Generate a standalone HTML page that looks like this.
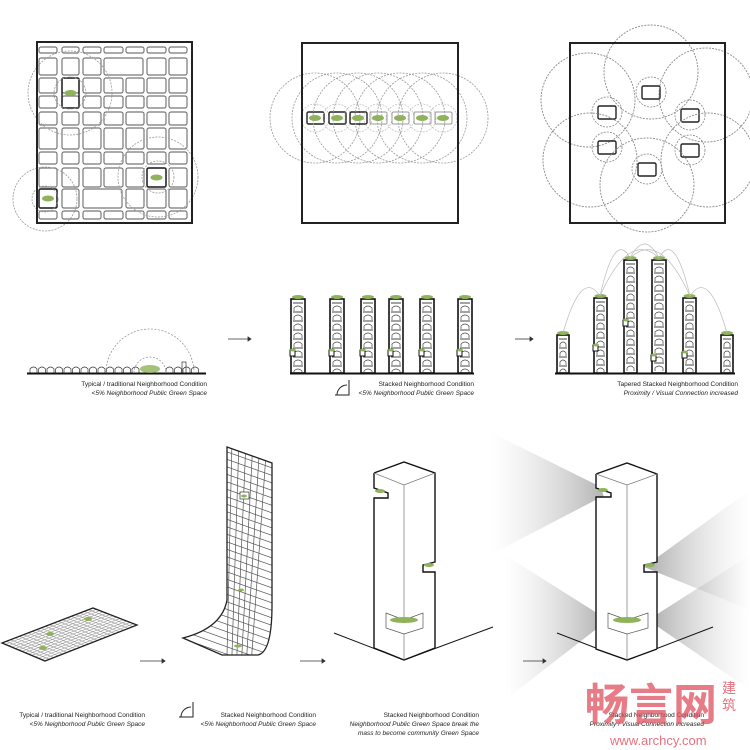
<!DOCTYPE html>
<html><head><meta charset="utf-8"><style>
html,body{margin:0;padding:0;background:#fff}
svg{display:block}
text{font-family:"Liberation Sans",sans-serif;font-size:6.5px;fill:#222}
.i{font-style:italic}
</style></head><body>
<svg id="s" width="750" height="750" viewBox="0 0 750 750" xmlns="http://www.w3.org/2000/svg">
<defs>
<linearGradient id="gL" x1="1" y1="0" x2="0" y2="0"><stop offset="0" stop-color="#888" stop-opacity=".7"/><stop offset="1" stop-color="#ccc" stop-opacity="0"/></linearGradient>
<linearGradient id="gR" x1="0" y1="0" x2="1" y2="0"><stop offset="0" stop-color="#888" stop-opacity=".7"/><stop offset="1" stop-color="#ccc" stop-opacity="0"/></linearGradient>
<clipPath id="sheet"><path d="M227,447 L272,463 L272,605 Q272,652 258,655 L222,655 L183,638 Q222,628 227,600 Z"/></clipPath>
<clipPath id="plate"><path d="M2,643 L93,608 L137,625 L45,661 Z"/></clipPath>
</defs>
<g id="g"></g>

<polygon points="490,432 611,492 490,555" fill="url(#gL)"/>
<polygon points="644,567 750,490 750,610" fill="url(#gR)"/>
<polygon points="505,555 608,620 505,700" fill="url(#gL)"/>
<polygon points="648,620 750,555 750,690" fill="url(#gR)"/>

<rect x="37" y="42" width="155" height="181" fill="none" stroke="#222" stroke-width="2"/>
<rect x="302" y="43" width="156" height="180" fill="none" stroke="#222" stroke-width="2"/>
<rect x="570" y="43" width="155" height="180" fill="none" stroke="#222" stroke-width="2"/>

<line x1="27" y1="373.5" x2="206" y2="373.5" stroke="#111" stroke-width="2"/>
<line x1="290" y1="373.5" x2="474" y2="373.5" stroke="#111" stroke-width="2"/>
<line x1="555" y1="373.5" x2="735" y2="373.5" stroke="#111" stroke-width="2"/>
<path d="M106,373 A44,44 0 0 1 194,373" fill="none" stroke="#999" stroke-width=".8" stroke-dasharray="2,1.5"/>
<path d="M134,373 A16,16 0 0 1 166,373" fill="none" stroke="#999" stroke-width=".8" stroke-dasharray="2,1.5"/>
<ellipse cx="150" cy="369" rx="10" ry="4" fill="#8fb35a" opacity=".8"/>

<g stroke="#333" stroke-width=".8" fill="#333">
<line x1="228" y1="339" x2="248" y2="339"/><polygon points="248,337 251,339 248,341"/>
<line x1="515" y1="339" x2="530" y2="339"/><polygon points="530,337 533,339 530,341"/>
<line x1="140" y1="661" x2="162" y2="661"/><polygon points="162,659 165,661 162,663"/>
<line x1="300" y1="661" x2="322" y2="661"/><polygon points="322,659 325,661 322,663"/>
<line x1="523" y1="661" x2="543" y2="661"/><polygon points="543,659 546,661 543,663"/>
</g>

<g clip-path="url(#plate)" id="pl"></g>
<path d="M2,643 L93,608 L137,625 L45,661 Z" fill="none" stroke="#222" stroke-width="1.3"/>
<g clip-path="url(#sheet)" id="sh"></g>
<path d="M227,447 L272,463 L272,605 Q272,652 258,655 L222,655 L183,638 Q222,628 227,600 Z" fill="none" stroke="#222" stroke-width="1.3"/>

<g fill="none" stroke="#111" stroke-width="1.4">
<line x1="334" y1="633" x2="404" y2="660" stroke-width="1"/><line x1="404" y1="660" x2="493" y2="627" stroke-width="1"/>
<path d="M374,473 L404,462 L435,473 L435,562 L423,565 L423,572 L435,572 L435,648 M374,473 L374,488 L388,493 L388,498 L374,498 L374,648 L404,660 L435,648" fill="#fff"/>
<path d="M374,473 L404,485 L435,473 M404,485 L404,660" stroke="#777" stroke-width=".7"/>
<path d="M386,613 L404,620 L423,613 L423,628 L404,634 L386,628 Z" fill="#fff" stroke="#555" stroke-width=".7"/>
</g>
<g fill="none" stroke="#111" stroke-width="1.4">
<line x1="557" y1="633" x2="627" y2="660" stroke-width="1"/><line x1="627" y1="660" x2="713" y2="627" stroke-width="1"/>
<path d="M596,474 L627,463 L657,474 L657,562 L644,565 L644,572 L657,572 L657,649 M596,474 L596,488 L611,493 L611,497 L596,497 L596,649 L627,660 L657,649" fill="#fff"/>
<path d="M596,474 L627,485 L657,474 M627,485 L627,660" stroke="#777" stroke-width=".7"/>
<path d="M608,613 L627,620 L648,613 L648,628 L627,634 L608,628 Z" fill="#fff" stroke="#555" stroke-width=".7"/>
</g>
<g fill="#8fb35a">
<ellipse cx="380" cy="491" rx="5" ry="2"/><ellipse cx="429" cy="565" rx="5" ry="2"/><ellipse cx="404" cy="620" rx="14" ry="3"/>
<ellipse cx="603" cy="490" rx="5" ry="2"/><ellipse cx="650" cy="565" rx="5" ry="2"/><ellipse cx="627" cy="620" rx="14" ry="3"/>
</g>

<path d="M335,395 L349,395 L349,380 M337,395 A10,10 0 0 1 347,385" fill="none" stroke="#222" stroke-width="1"/>
<path d="M179,717 L193,717 L193,702 M181,717 A10,10 0 0 1 191,707" fill="none" stroke="#222" stroke-width="1"/>

<text x="207" y="386" text-anchor="end">Typical / traditional Neighborhood Condition</text>
<text x="207" y="395" text-anchor="end" class="i">&lt;5% Neighborhood Public Green Space</text>
<text x="474" y="386" text-anchor="end">Stacked Neighborhood Condition</text>
<text x="474" y="395" text-anchor="end" class="i">&lt;5% Neighborhood Public Green Space</text>
<text x="738" y="386" text-anchor="end">Tapered Stacked Neighborhood Condition</text>
<text x="738" y="395" text-anchor="end" class="i">Proximity / Visual Connection increased</text>
<text x="145" y="717" text-anchor="end">Typical / traditional Neighborhood Condition</text>
<text x="145" y="726" text-anchor="end" class="i">&lt;5% Neighborhood Public Green Space</text>
<text x="316" y="717" text-anchor="end">Stacked Neighborhood Condition</text>
<text x="316" y="726" text-anchor="end" class="i">&lt;5% Neighborhood Public Green Space</text>
<text x="479" y="717" text-anchor="end">Stacked Neighborhood Condition</text>
<text x="479" y="726" text-anchor="end" class="i">Neighborhood Public Green Space break the</text>
<text x="479" y="735" text-anchor="end" class="i">mass to become community Green Space</text>
<text x="704" y="717" text-anchor="end">Stacked Neighborhood Condition</text>
<text x="704" y="726" text-anchor="end" class="i">Proximity / Visual Connection increased</text>

<text x="585" y="720" style="font-family:'Noto Sans CJK SC',sans-serif;font-size:44px;font-weight:bold;fill:#e0505e;opacity:.75">畅言网</text>
<text x="722" y="693" style="font-family:'Noto Sans CJK SC',sans-serif;font-size:14px;fill:#e0505e;opacity:.8">建</text>
<text x="722" y="710" style="font-family:'Noto Sans CJK SC',sans-serif;font-size:14px;fill:#e0505e;opacity:.8">筑</text>
<text x="610" y="745" style="font-size:13px;fill:#e0505e;opacity:.8">www.archcy.com</text>
</svg>
<script>
var NS="http://www.w3.org/2000/svg",G=document.getElementById('g');
function el(p,t,a){var e=document.createElementNS(NS,t);for(var k in a)e.setAttribute(k,a[k]);p.appendChild(e);return e;}
var cx=[39,62,83,104,126,147,169],cw=[18,17,18,19,18,19,18];
var ry=[[47,6],[58,17],[78,15],[96,12],[112,13],[128,21],[152,12],[168,19],[189,19],[211,8]];
ry.forEach(function(r,ri){for(var i=0;i<7;i++){var w=cw[i];
 if(ri==1&&i==3){w=cx[5]-cx[3]-4;}if(ri==1&&i==4)continue;
 if(ri==8&&i==2){w=cx[4]-cx[2]-4;}if(ri==8&&i==3)continue;
 el(G,'rect',{x:cx[i],y:r[0],width:w,height:r[1],rx:2,fill:'none',stroke:'#777','stroke-width':1.2});}});
[[62,78,17,30],[147,168,19,19],[39,189,18,19]].forEach(function(b){el(G,'rect',{x:b[0],y:b[1],width:b[2],height:b[3],rx:1.5,fill:'none',stroke:'#222','stroke-width':1.5});
 el(G,'ellipse',{cx:b[0]+b[2]/2,cy:b[1]+b[3]/2,rx:6,ry:3,fill:'#8fb35a'});});
[[70,93,42],[70,93,16],[158,177,40],[158,177,16],[45,199,32],[45,199,13]].forEach(function(c){el(G,'circle',{cx:c[0],cy:c[1],r:c[2],fill:'none',stroke:'#999','stroke-width':.8,'stroke-dasharray':'2,1.2'});});
[315,337,358,378,400,422,443].forEach(function(x,i){
 el(G,'circle',{cx:x,cy:118,r:45,fill:'none',stroke:'#999','stroke-width':.8,'stroke-dasharray':'2,1.2'});
 el(G,'circle',{cx:x,cy:118,r:14,fill:'none',stroke:'#bbb','stroke-width':.7,'stroke-dasharray':'2,1.2'});
 el(G,'rect',{x:x-8,y:112,width:17,height:12,rx:1.5,fill:'none',stroke:i<3?'#222':'#999','stroke-width':i<3?1.4:1});
 el(G,'ellipse',{cx:x,cy:118,rx:6,ry:3,fill:'#8fb35a'});});
[[651,92,651,72],[607,112,588,100],[690,115,706,95],[607,147,590,160],[690,150,708,160],[647,169,647,185]].forEach(function(b){
 el(G,'circle',{cx:b[2],cy:b[3],r:47,fill:'none',stroke:'#888','stroke-width':.9,'stroke-dasharray':'2,1.2'});
 el(G,'circle',{cx:b[0],cy:b[1],r:15,fill:'none',stroke:'#888','stroke-width':.8,'stroke-dasharray':'2,1.2'});
 el(G,'rect',{x:b[0]-9,y:b[1]-6,width:18,height:13,rx:1.5,fill:'none',stroke:'#222','stroke-width':1.4});});
for(var x=30;x<200;x+=8.5){if(x>140&&x<162)continue;el(G,'path',{d:'M'+x+',373 v-4 q3.5,-4 7,0 v4',fill:'none',stroke:'#333','stroke-width':.7});}
el(G,'rect',{x:182,y:362,width:4,height:11,fill:'none',stroke:'#333','stroke-width':.7});
function tower(x,w,top,n){var g=el(G,'g',{});
 el(g,'rect',{x:x,y:top,width:w,height:373-top,fill:'#fff',stroke:'#111','stroke-width':1.6});
 for(var y=top+4;y<370;y+=9){el(g,'line',{x1:x+2,y1:y,x2:x+w-2,y2:y,stroke:'#333','stroke-width':.9});
  el(g,'path',{d:'M'+(x+3)+','+(y+8)+' v-3 q'+(w/2-3)+',-4 '+(w-6)+',0 v3',fill:'none',stroke:'#444','stroke-width':.7});}
 el(g,'ellipse',{cx:x+w/2,cy:top-2,rx:6,ry:2,fill:'#8fb35a'});
 if(n){el(g,'rect',{x:x-1,y:n,width:5,height:6,fill:'#fff',stroke:'#111','stroke-width':1});el(g,'ellipse',{cx:x+2,cy:n,rx:3,ry:1.5,fill:'#8fb35a'});}}
[[291,14],[330,14],[361,14],[389,14],[420,14],[458,14]].forEach(function(t){tower(t[0],t[1],299,350);});
[[557,12,335,0],[594,13,298,345],[624,13,260,320],[652,14,260,355],[683,13,298,352],[721,12,335,0]].forEach(function(t){tower(t[0],t[1],t[2],t[3]);});
[[563,335,600,298],[600,298,630,260],[659,260,690,298],[690,298,727,335],[630,260,659,260],[600,298,659,260],[630,260,690,298]].forEach(function(a){
 var mx=(a[0]+a[2])/2,my=Math.min(a[1],a[3])-30;el(G,'path',{d:'M'+a[0]+','+(a[1]-2)+' Q'+mx+','+my+' '+a[2]+','+(a[3]-2),fill:'none',stroke:'#bbb','stroke-width':.7});});
var P=document.getElementById('pl');
for(var i=0;i<14;i++){var t=i/13;el(P,'line',{x1:2+43*t,y1:643+18*t,x2:93+44*t,y2:608+17*t,stroke:'#999','stroke-width':.6});}
for(var i=0;i<22;i++){var t=i/21;el(P,'line',{x1:2+91*t,y1:643-35*t,x2:45+92*t,y2:661-36*t,stroke:'#999','stroke-width':.6});}
el(P,'ellipse',{cx:50,cy:634,rx:4,ry:2,fill:'#8fb35a'});el(P,'ellipse',{cx:88,cy:619,rx:4,ry:2,fill:'#8fb35a'});el(P,'ellipse',{cx:43,cy:648,rx:4,ry:2,fill:'#8fb35a'});
var S=document.getElementById('sh');
for(var y=452;y<660;y+=7.5){el(S,'line',{x1:180,y1:y-17,x2:275,y2:y+17,stroke:'#555','stroke-width':.7});}
for(var x=232;x<272;x+=7){el(S,'line',{x1:x,y1:440,x2:x-(x-215)*0.3,y2:660,stroke:'#555','stroke-width':.7});}
el(S,'rect',{x:240,y:492,width:9,height:7,fill:'#fff',stroke:'#333','stroke-width':.7});
el(S,'ellipse',{cx:244,cy:496,rx:3,ry:1.5,fill:'#8fb35a'});el(S,'ellipse',{cx:241,cy:590,rx:3,ry:1.5,fill:'#8fb35a'});el(S,'ellipse',{cx:238,cy:646,rx:4,ry:1.5,fill:'#8fb35a'});
</script>
</body></html>
